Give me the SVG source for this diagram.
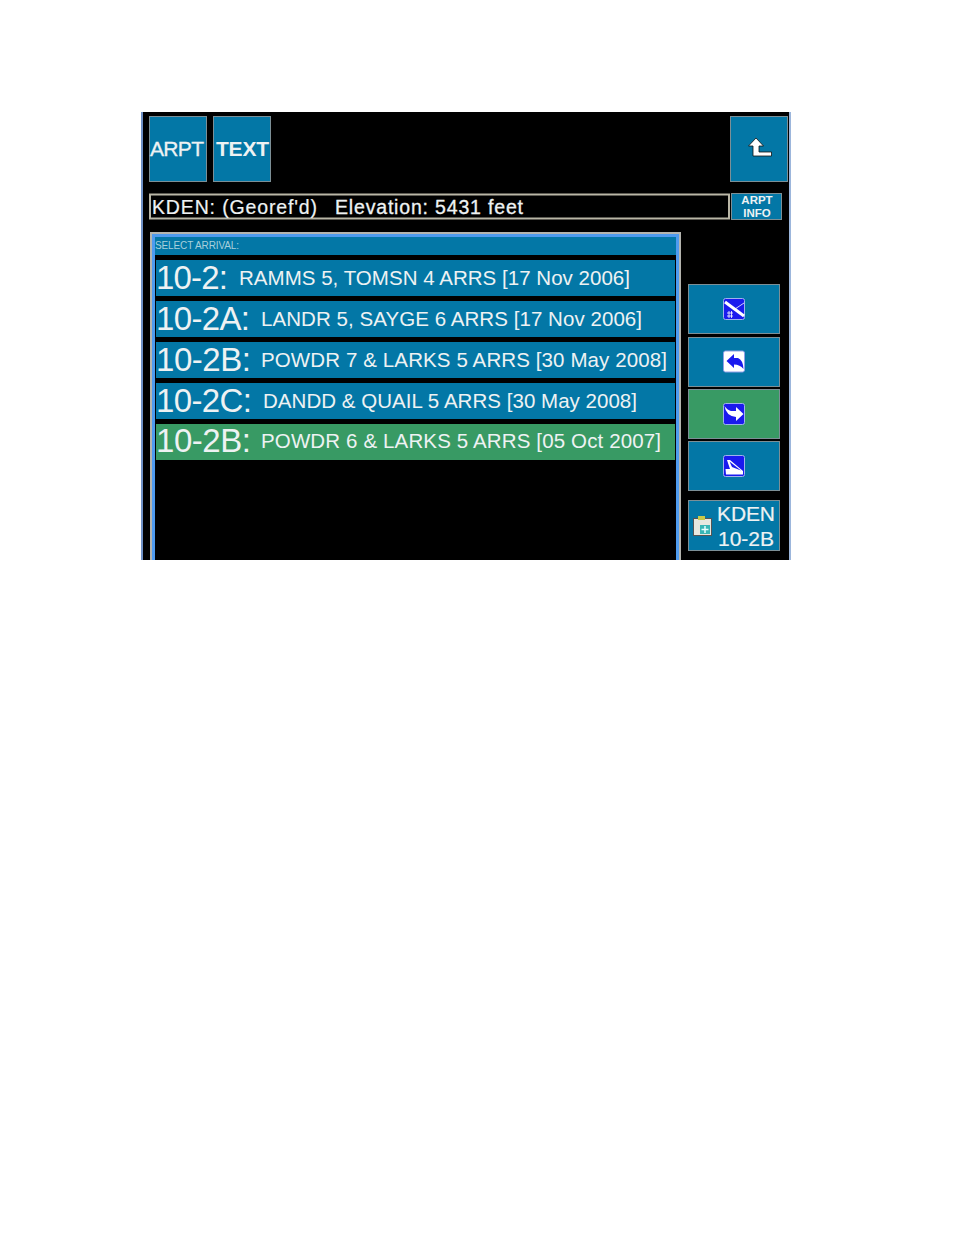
<svg xmlns="http://www.w3.org/2000/svg" width="954" height="1235" viewBox="0 0 954 1235">
<style>
text{font-family:"Liberation Sans",Arial,sans-serif;fill:#eef2f3}
.btn{fill:#0377a6;stroke:#7c8f96;stroke-width:1}
.row{fill:#0377a6}
.green{fill:#389a64}
.num{font-size:33px}
.lbl{font-size:20.500px}
.icw{fill:#fff;stroke:#8f9fe8;stroke-width:1}
.icb{fill:#1a1aee;stroke:#9fb0ee;stroke-width:1}
</style>
<rect x="0" y="0" width="954" height="1235" fill="#fff"/>
<g id="screen">
<rect x="141" y="112" width="650" height="448" fill="#000"/>
<rect x="141" y="112" width="2" height="448" fill="#6d8fc4"/>
<rect x="789" y="112" width="2" height="448" fill="#9cb6dc"/>
</g>
<g id="btn-arpt"><rect class="btn" x="149.500" y="116.500" width="57" height="65"/><text x="150" y="156" font-size="21" stroke="#eef2f3" stroke-width="0.300" textLength="54">ARPT</text></g>
<g id="btn-text"><rect class="btn" x="213.500" y="116.500" width="57" height="65"/><text x="216" y="156" font-size="21" font-weight="700" textLength="53">TEXT</text></g>
<g id="btn-up"><rect class="btn" x="730.500" y="116.500" width="57" height="65"/><path d="M756 138 L748.500 146 L753 146 L753 156 L771.500 156 L771.500 152 L759 152 L759 146 L763.500 146 Z" fill="#fff" stroke="#111" stroke-width="0.800"/></g>
<g id="info-bar"><rect x="150" y="194.500" width="579" height="24" fill="#000" stroke="#b9b6a6" stroke-width="2"/><text x="152" y="214" font-size="19.500" stroke="#eef2f3" stroke-width="0.200" textLength="165">KDEN: (Georef'd)</text><text x="335" y="214" font-size="19.500" stroke="#eef2f3" stroke-width="0.300" textLength="188">Elevation: 5431 feet</text></g>
<g id="btn-arpt-info"><rect class="btn" x="731.500" y="193.500" width="50" height="26"/><text x="757" y="204" font-size="11.500" font-weight="700" text-anchor="middle">ARPT</text><text x="757" y="217" font-size="11.500" font-weight="700" text-anchor="middle">INFO</text></g>
<g id="list-panel">
<rect x="150" y="232" width="531" height="328" fill="#b4b4ae"/>
<rect x="152" y="234" width="527" height="326" fill="#4f9bef"/>
<rect x="155" y="237" width="521" height="323" fill="#000"/>
<rect x="155" y="237" width="521" height="18" fill="#0377a6"/>
<text x="155" y="249" font-size="10" style="fill:#a8d0dc" textLength="84">SELECT ARRIVAL:</text>
</g>
<g id="row-1"><rect class="row" x="156" y="260" width="519" height="36"/><text class="num" x="156" y="289" textLength="72">10-2:</text><text class="lbl" x="239" y="285" textLength="391">RAMMS 5, TOMSN 4 ARRS [17 Nov 2006]</text></g>
<g id="row-2"><rect class="row" x="156" y="301" width="519" height="36"/><text class="num" x="156" y="330" textLength="94">10-2A:</text><text class="lbl" x="261" y="326" textLength="381">LANDR 5, SAYGE 6 ARRS [17 Nov 2006]</text></g>
<g id="row-3"><rect class="row" x="156" y="342" width="519" height="36"/><text class="num" x="156" y="371" textLength="95">10-2B:</text><text class="lbl" x="261" y="367" textLength="406">POWDR 7 &amp; LARKS 5 ARRS [30 May 2008]</text></g>
<g id="row-4"><rect class="row" x="156" y="383" width="519" height="36"/><text class="num" x="156" y="412" textLength="96">10-2C:</text><text class="lbl" x="263" y="408" textLength="374">DANDD &amp; QUAIL 5 ARRS [30 May 2008]</text></g>
<g id="row-5"><rect class="row green" x="156" y="424" width="519" height="36"/><text class="num" x="156" y="452" textLength="95">10-2B:</text><text class="lbl" x="261" y="448" textLength="400">POWDR 6 &amp; LARKS 5 ARRS [05 Oct 2007]</text></g>
<g id="btn-side-1"><rect class="btn" x="688.500" y="284.500" width="91" height="49"/><rect class="icb" x="723.500" y="298.500" width="21" height="21" rx="2"/><path d="M725 302 L744 316" stroke="#fff" stroke-width="3" fill="none"/><path d="M735 309 L744 303 M727 313 h6 M727 316 h6 M729 311 v7 M731.500 311 v7" stroke="#fff" stroke-width="0.800" fill="none"/></g>
<g id="btn-side-2"><rect class="btn" x="688.500" y="337.500" width="91" height="49"/><rect class="icw" x="723.500" y="351" width="21" height="21" rx="2"/><path d="M726.500 361 L734 354 L734 358 L738 358 Q743 360 743.500 369 Q740 364.500 734 364.500 L734 368 Z" fill="#1a1aee"/></g>
<g id="btn-side-3"><rect class="btn green" x="688.500" y="389.500" width="91" height="49"/><rect class="icb" x="723.500" y="403.500" width="21" height="21" rx="2"/><path d="M743.500 414 L736 407 L736 411 L731 411 Q727 410 724.500 406 Q726 416 736 417 L736 421 Z" fill="#fff"/></g>
<g id="btn-side-4"><rect class="btn" x="688.500" y="441.500" width="91" height="49"/><rect class="icb" x="723.500" y="455.500" width="21" height="21" rx="2"/><path d="M726 474.500 L743 474.500 L743 471 L730 460 L727 460 L730 469 L725.500 469 Z" fill="#fff"/><path d="M729.500 461.500 L741 470.500 L732 467 Z" fill="#1a1aee"/></g>
<g id="btn-kden"><rect class="btn" x="688.500" y="500.500" width="91" height="50"/>
<rect x="693.500" y="518.500" width="18" height="17" fill="#e8e8e0" stroke="#555"/><rect x="698" y="516" width="7" height="4" fill="#c9c94a"/><rect x="700" y="525" width="10" height="9" fill="#39b6b6"/><path d="M705 526 V533 M701.500 529.500 H708.500" stroke="#e8ffff" stroke-width="1.500"/>
<text x="717" y="521" font-size="21" stroke="#eef2f3" stroke-width="0.200" textLength="58">KDEN</text><text x="718" y="546" font-size="21" stroke="#eef2f3" stroke-width="0.200" textLength="56">10-2B</text></g>
<g id="connectors"></g>
</svg>
